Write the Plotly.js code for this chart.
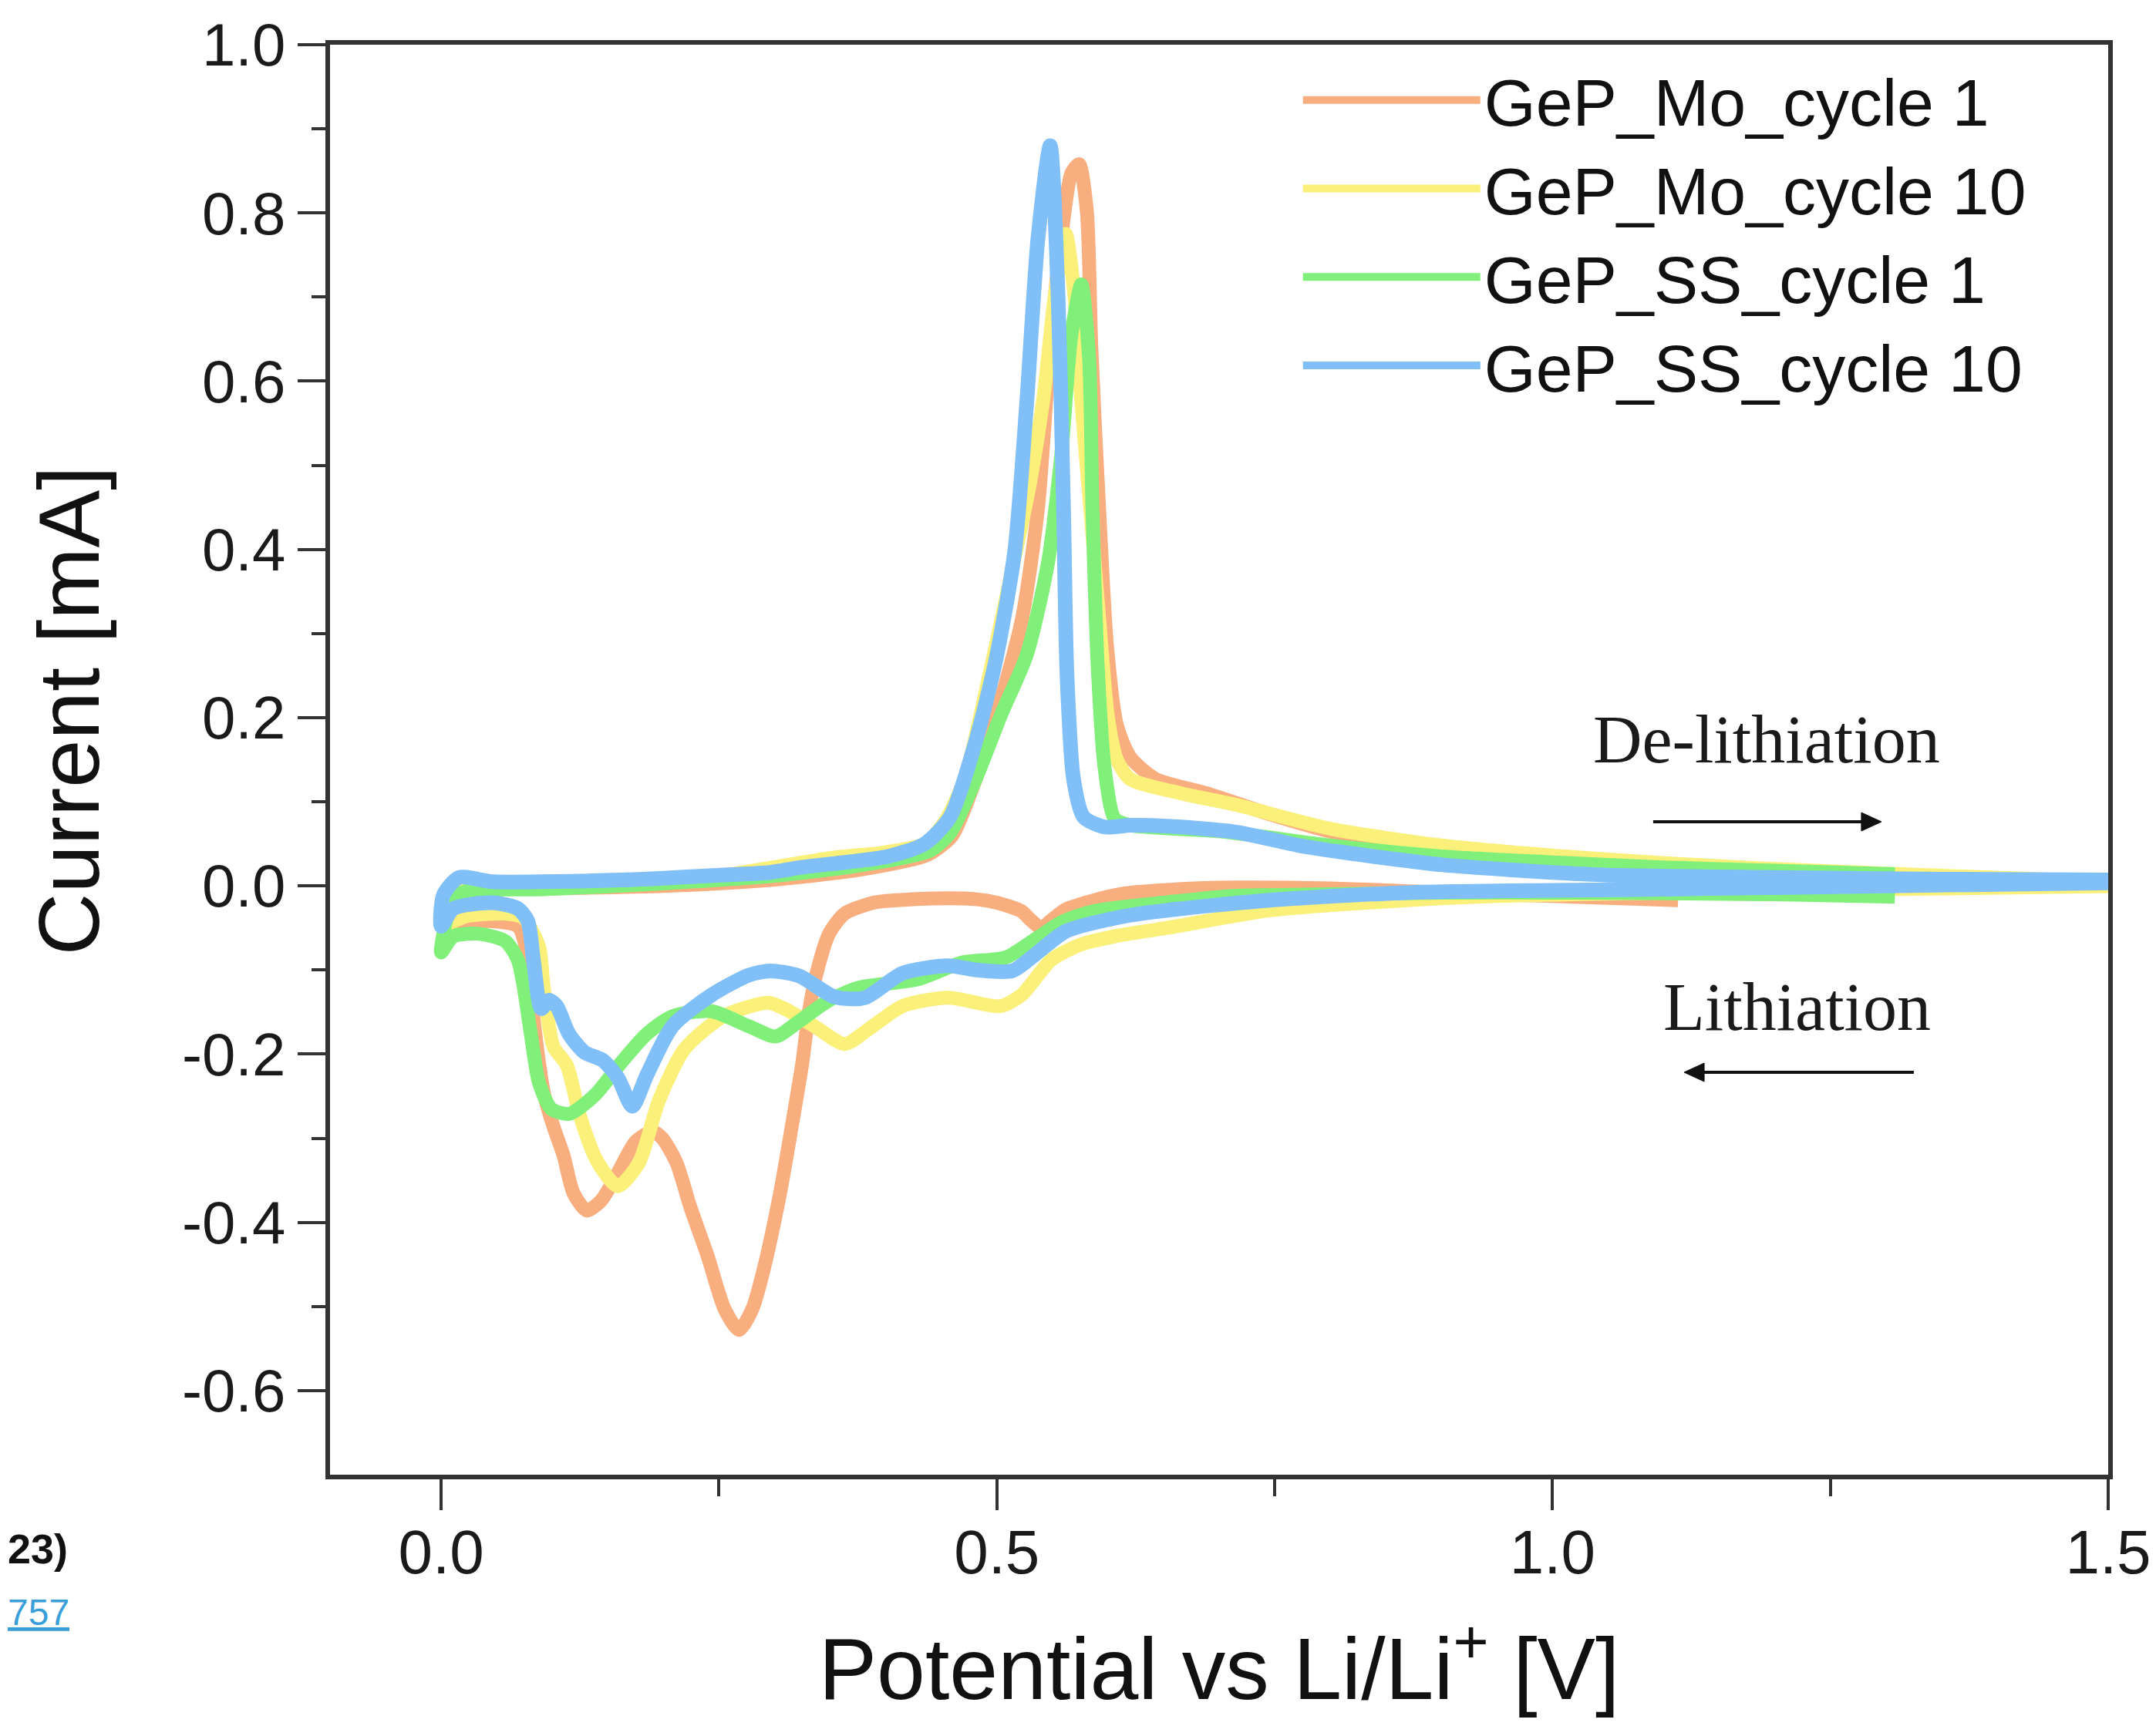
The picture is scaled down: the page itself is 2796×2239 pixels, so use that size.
<!DOCTYPE html>
<html>
<head>
<meta charset="utf-8">
<script src="https://cdn.plot.ly/plotly-3.0.1.min.js"></script>
<style>
  html, body { margin: 0; padding: 0; background: #ffffff; }
  #chart { width: 2796px; height: 2239px; }
</style>
</head>
<body>
<div id="chart"></div>
<script>
// ---------- data ----------
const seriesNames = ["GeP_Mo_cycle 1", "GeP_Mo_cycle 10", "GeP_SS_cycle 1", "GeP_SS_cycle 10"];

// GeP_Mo_cycle 1 : lithiation (vertex -> 0 V) then de-lithiation (0 V -> vertex)
const moC1X = [1.113, 1.0, 0.9, 0.8, 0.713, 0.65, 0.615, 0.585, 0.562, 0.548, 0.540, 0.530, 0.522, 0.50, 0.482, 0.442, 0.40, 0.389, 0.363, 0.349, 0.338, 0.331, 0.325, 0.317, 0.305, 0.290, 0.280, 0.268, 0.255, 0.240, 0.224, 0.212, 0.199, 0.190, 0.175, 0.159, 0.144, 0.131, 0.119, 0.110, 0.101, 0.093, 0.088, 0.081, 0.076, 0.069, 0.046, 0.016, 0.003,
               0.003, 0.010, 0.030, 0.10, 0.20, 0.296, 0.376, 0.429, 0.442, 0.460, 0.481, 0.504, 0.523, 0.537, 0.548, 0.558, 0.567, 0.574, 0.581, 0.585, 0.592, 0.599, 0.608, 0.620, 0.643, 0.689, 0.746, 0.808, 0.869, 0.932, 1.025, 1.113];
const moC1Y = [-0.017, -0.012, -0.008, -0.003, -0.002, -0.005, -0.009, -0.018, -0.028, -0.042, -0.050, -0.040, -0.030, -0.020, -0.016, -0.015, -0.018, -0.020, -0.033, -0.057, -0.103, -0.149, -0.210, -0.274, -0.365, -0.457, -0.503, -0.528, -0.503, -0.441, -0.381, -0.330, -0.300, -0.292, -0.304, -0.341, -0.374, -0.386, -0.365, -0.320, -0.286, -0.250, -0.210, -0.134, -0.072, -0.048, -0.042, -0.045, -0.055,
               -0.030, -0.010, -0.005, -0.003, 0.000, 0.007, 0.019, 0.033, 0.040, 0.060, 0.127, 0.223, 0.320, 0.449, 0.641, 0.770, 0.847, 0.858, 0.802, 0.641, 0.449, 0.287, 0.191, 0.153, 0.127, 0.110, 0.085, 0.062, 0.048, 0.038, 0.029, 0.024];

// GeP_Mo_cycle 10
const moC10X = [1.52, 1.30, 1.10, 0.95, 0.869, 0.746, 0.653, 0.606, 0.575, 0.549, 0.522, 0.503, 0.456, 0.415, 0.385, 0.363, 0.336, 0.309, 0.294, 0.254, 0.219, 0.196, 0.178, 0.159, 0.141, 0.125, 0.113, 0.101, 0.092, 0.088, 0.074, 0.058, 0.023, 0.003,
                0.003, 0.015, 0.05, 0.15, 0.25, 0.35, 0.40, 0.435, 0.453, 0.471, 0.494, 0.515, 0.530, 0.542, 0.552, 0.562, 0.570, 0.576, 0.584, 0.592, 0.600, 0.608, 0.620, 0.666, 0.713, 0.80, 0.90, 1.00, 1.10, 1.20, 1.35, 1.52];
const moC10Y = [0.000, -0.004, -0.008, -0.012, -0.017, -0.029, -0.050, -0.060, -0.070, -0.088, -0.130, -0.143, -0.133, -0.143, -0.170, -0.188, -0.167, -0.146, -0.139, -0.155, -0.194, -0.255, -0.329, -0.357, -0.329, -0.274, -0.213, -0.191, -0.118, -0.072, -0.038, -0.033, -0.036, -0.045,
                -0.020, -0.005, -0.002, 0.003, 0.012, 0.033, 0.040, 0.050, 0.076, 0.127, 0.255, 0.384, 0.480, 0.580, 0.700, 0.775, 0.700, 0.577, 0.450, 0.319, 0.200, 0.150, 0.127, 0.110, 0.097, 0.068, 0.048, 0.036, 0.027, 0.020, 0.012, 0.004];

// GeP_SS_cycle 1
const ssC1X = [1.308, 1.2, 1.0, 0.9, 0.8, 0.713, 0.65, 0.588, 0.560, 0.535, 0.508, 0.469, 0.429, 0.376, 0.349, 0.322, 0.301, 0.277, 0.243, 0.208, 0.185, 0.162, 0.138, 0.115, 0.099, 0.088, 0.081, 0.074, 0.069, 0.058, 0.034, 0.011, 0.000,
               0.002, 0.011, 0.023, 0.092, 0.20, 0.30, 0.38, 0.44, 0.458, 0.481, 0.504, 0.527, 0.546, 0.558, 0.567, 0.576, 0.583, 0.586, 0.591, 0.597, 0.606, 0.62, 0.70, 0.80, 0.90, 1.00, 1.10, 1.20, 1.308];
const ssC1Y = [-0.013, -0.010, -0.008, -0.008, -0.010, -0.012, -0.020, -0.030, -0.042, -0.063, -0.085, -0.091, -0.111, -0.121, -0.136, -0.161, -0.179, -0.167, -0.149, -0.155, -0.176, -0.210, -0.249, -0.271, -0.265, -0.234, -0.179, -0.118, -0.088, -0.066, -0.057, -0.060, -0.079,
               -0.057, -0.015, -0.006, -0.004, 0.003, 0.012, 0.025, 0.042, 0.063, 0.127, 0.204, 0.275, 0.384, 0.513, 0.654, 0.715, 0.628, 0.449, 0.255, 0.140, 0.080, 0.072, 0.065, 0.048, 0.035, 0.028, 0.022, 0.018, 0.014];

// GeP_SS_cycle 10
const ssC10X = [1.52, 1.30, 1.10, 0.869, 0.746, 0.653, 0.615, 0.562, 0.535, 0.514, 0.482, 0.456, 0.415, 0.381, 0.354, 0.322, 0.296, 0.277, 0.243, 0.208, 0.185, 0.172, 0.159, 0.145, 0.129, 0.115, 0.104, 0.097, 0.090, 0.083, 0.078, 0.069, 0.046, 0.011, 0.000,
                0.002, 0.016, 0.046, 0.162, 0.254, 0.296, 0.324, 0.402, 0.435, 0.458, 0.481, 0.499, 0.516, 0.527, 0.537, 0.548, 0.555, 0.560, 0.563, 0.569, 0.578, 0.597, 0.620, 0.653, 0.715, 0.776, 0.839, 0.901, 0.963, 1.046, 1.20, 1.35, 1.52];
const ssC10Y = [0.004, 0.000, -0.004, -0.008, -0.017, -0.029, -0.036, -0.054, -0.081, -0.101, -0.100, -0.095, -0.104, -0.133, -0.132, -0.107, -0.101, -0.106, -0.130, -0.167, -0.225, -0.262, -0.228, -0.207, -0.198, -0.176, -0.143, -0.136, -0.146, -0.088, -0.042, -0.027, -0.020, -0.027, -0.048,
                -0.011, 0.010, 0.005, 0.007, 0.013, 0.016, 0.022, 0.035, 0.050, 0.082, 0.172, 0.268, 0.397, 0.577, 0.770, 0.880, 0.705, 0.449, 0.255, 0.127, 0.082, 0.070, 0.072, 0.071, 0.064, 0.047, 0.035, 0.025, 0.019, 0.013, 0.010, 0.008, 0.007];

const xTickVals = [0, 0.5, 1.0, 1.5];
const xTickText = ["0.0", "0.5", "1.0", "1.5"];
const xMinorVals = [0.25, 0.75, 1.25];
const yTickVals = [-0.6, -0.4, -0.2, 0.0, 0.2, 0.4, 0.6, 0.8, 1.0];
const yTickText = ["-0.6", "-0.4", "-0.2", "0.0", "0.2", "0.4", "0.6", "0.8", "1.0"];
const yMinorVals = [-0.5, -0.3, -0.1, 0.1, 0.3, 0.5, 0.7, 0.9];

// ---------- style ----------
const colors = ["#F9AE80", "#FAF07A", "#80F07A", "#80BFF8"];
const widths = [18, 18, 18, 19];
const xs = [moC1X, moC10X, ssC1X, ssC10X];
const ys = [moC1Y, moC10Y, ssC1Y, ssC10Y];

const traces = seriesNames.map((n, i) => ({
  type: "scatter",
  mode: "lines",
  name: n,
  x: xs[i],
  y: ys[i],
  line: { color: colors[i], width: widths[i], shape: "spline", smoothing: 0.7 },
  hoverinfo: "skip"
}));

const axisColor = "#333333";
const sans = "Liberation Sans, Arial, Helvetica, sans-serif";
const serif = "Liberation Serif, Times New Roman, DejaVu Serif, serif";
const arrowColor = "#111111";

const layout = {
  width: 2796,
  height: 2239,
  paper_bgcolor: "#ffffff",
  plot_bgcolor: "#ffffff",
  margin: { l: 428, r: 62, t: 58, b: 326, pad: 0 },
  showlegend: true,
  legend: {
    x: 0.545, xanchor: "left",
    y: 0.995, yanchor: "top",
    bgcolor: "rgba(0,0,0,0)",
    borderwidth: 0,
    font: { family: sans, size: 86, color: "#111111" },
    itemwidth: 230,
    tracegroupgap: 0
  },
  xaxis: {
    range: [-0.1, 1.5],
    tickmode: "array",
    tickvals: xTickVals,
    ticktext: xTickText,
    ticks: "outside",
    ticklen: 40,
    tickwidth: 4,
    tickcolor: axisColor,
    ticklabelstandoff: -14,
    minor: { tickmode: "array", tickvals: xMinorVals, ticks: "outside", ticklen: 22, tickwidth: 4, tickcolor: axisColor },
    showline: true, linewidth: 6, linecolor: axisColor, mirror: true,
    showgrid: false, zeroline: false,
    tickfont: { family: sans, size: 80, color: "#1a1a1a" },
    title: { text: "Potential vs Li/Li<sup>+</sup> [V]", font: { family: sans, size: 113, color: "#111111" }, standoff: 70 }
  },
  yaxis: {
    range: [-0.7, 1.0],
    tickmode: "array",
    tickvals: yTickVals,
    ticktext: yTickText,
    ticks: "outside",
    ticklen: 36,
    tickwidth: 4,
    tickcolor: axisColor,
    minor: { tickmode: "array", tickvals: yMinorVals, ticks: "outside", ticklen: 18, tickwidth: 4, tickcolor: axisColor },
    showline: true, linewidth: 6, linecolor: axisColor, mirror: true,
    showgrid: false, zeroline: false,
    tickfont: { family: sans, size: 78, color: "#1a1a1a" }
  },
  shapes: [
    // De-lithiation arrow (pointing right)
    { type: "line", xref: "paper", yref: "paper", x0: 0.7441, x1: 0.8650, y0: 0.4566, y1: 0.4566,
      line: { color: arrowColor, width: 4 } },
    { type: "path", xref: "paper", yref: "paper",
      path: "M 0.8725 0.4566 L 0.8612 0.46307 L 0.8612 0.45013 Z",
      fillcolor: arrowColor, line: { color: arrowColor, width: 1 } },
    // Lithiation arrow (pointing left)
    { type: "line", xref: "paper", yref: "paper", x0: 0.8907, x1: 0.7690, y0: 0.2814, y1: 0.2814,
      line: { color: arrowColor, width: 4 } },
    { type: "path", xref: "paper", yref: "paper",
      path: "M 0.7615 0.2814 L 0.7728 0.28787 L 0.7728 0.27493 Z",
      fillcolor: arrowColor, line: { color: arrowColor, width: 1 } }
  ],
  annotations: [
    { xref: "paper", yref: "paper", x: -0.147, y: 0.534, xanchor: "center", yanchor: "middle",
      textangle: -90, text: "Current [mA]", showarrow: false,
      font: { family: sans, size: 112, color: "#111111" } },
    { xref: "paper", yref: "paper", x: 0.8079, y: 0.514, xanchor: "center", yanchor: "middle",
      text: "De-lithiation", showarrow: false, font: { family: serif, size: 88, color: "#1a1a1a" } },
    { xref: "paper", yref: "paper", x: 0.825, y: 0.327, xanchor: "center", yanchor: "middle",
      text: "Lithiation", showarrow: false, font: { family: serif, size: 88, color: "#1a1a1a" } },
    { xref: "paper", yref: "paper", x: -0.1822, y: -0.0515, xanchor: "left", yanchor: "middle",
      text: "<b>23)</b>", showarrow: false,
      font: { family: sans, size: 54, color: "#111111" } },
    { xref: "paper", yref: "paper", x: -0.1822, y: -0.096, xanchor: "left", yanchor: "middle",
      text: "<u>757</u>", showarrow: false,
      font: { family: sans, size: 48, color: "#3a9fd8" } }
  ]
};

Plotly.newPlot("chart", traces, layout, { displayModeBar: false, staticPlot: true });
</script>
</body>
</html>
